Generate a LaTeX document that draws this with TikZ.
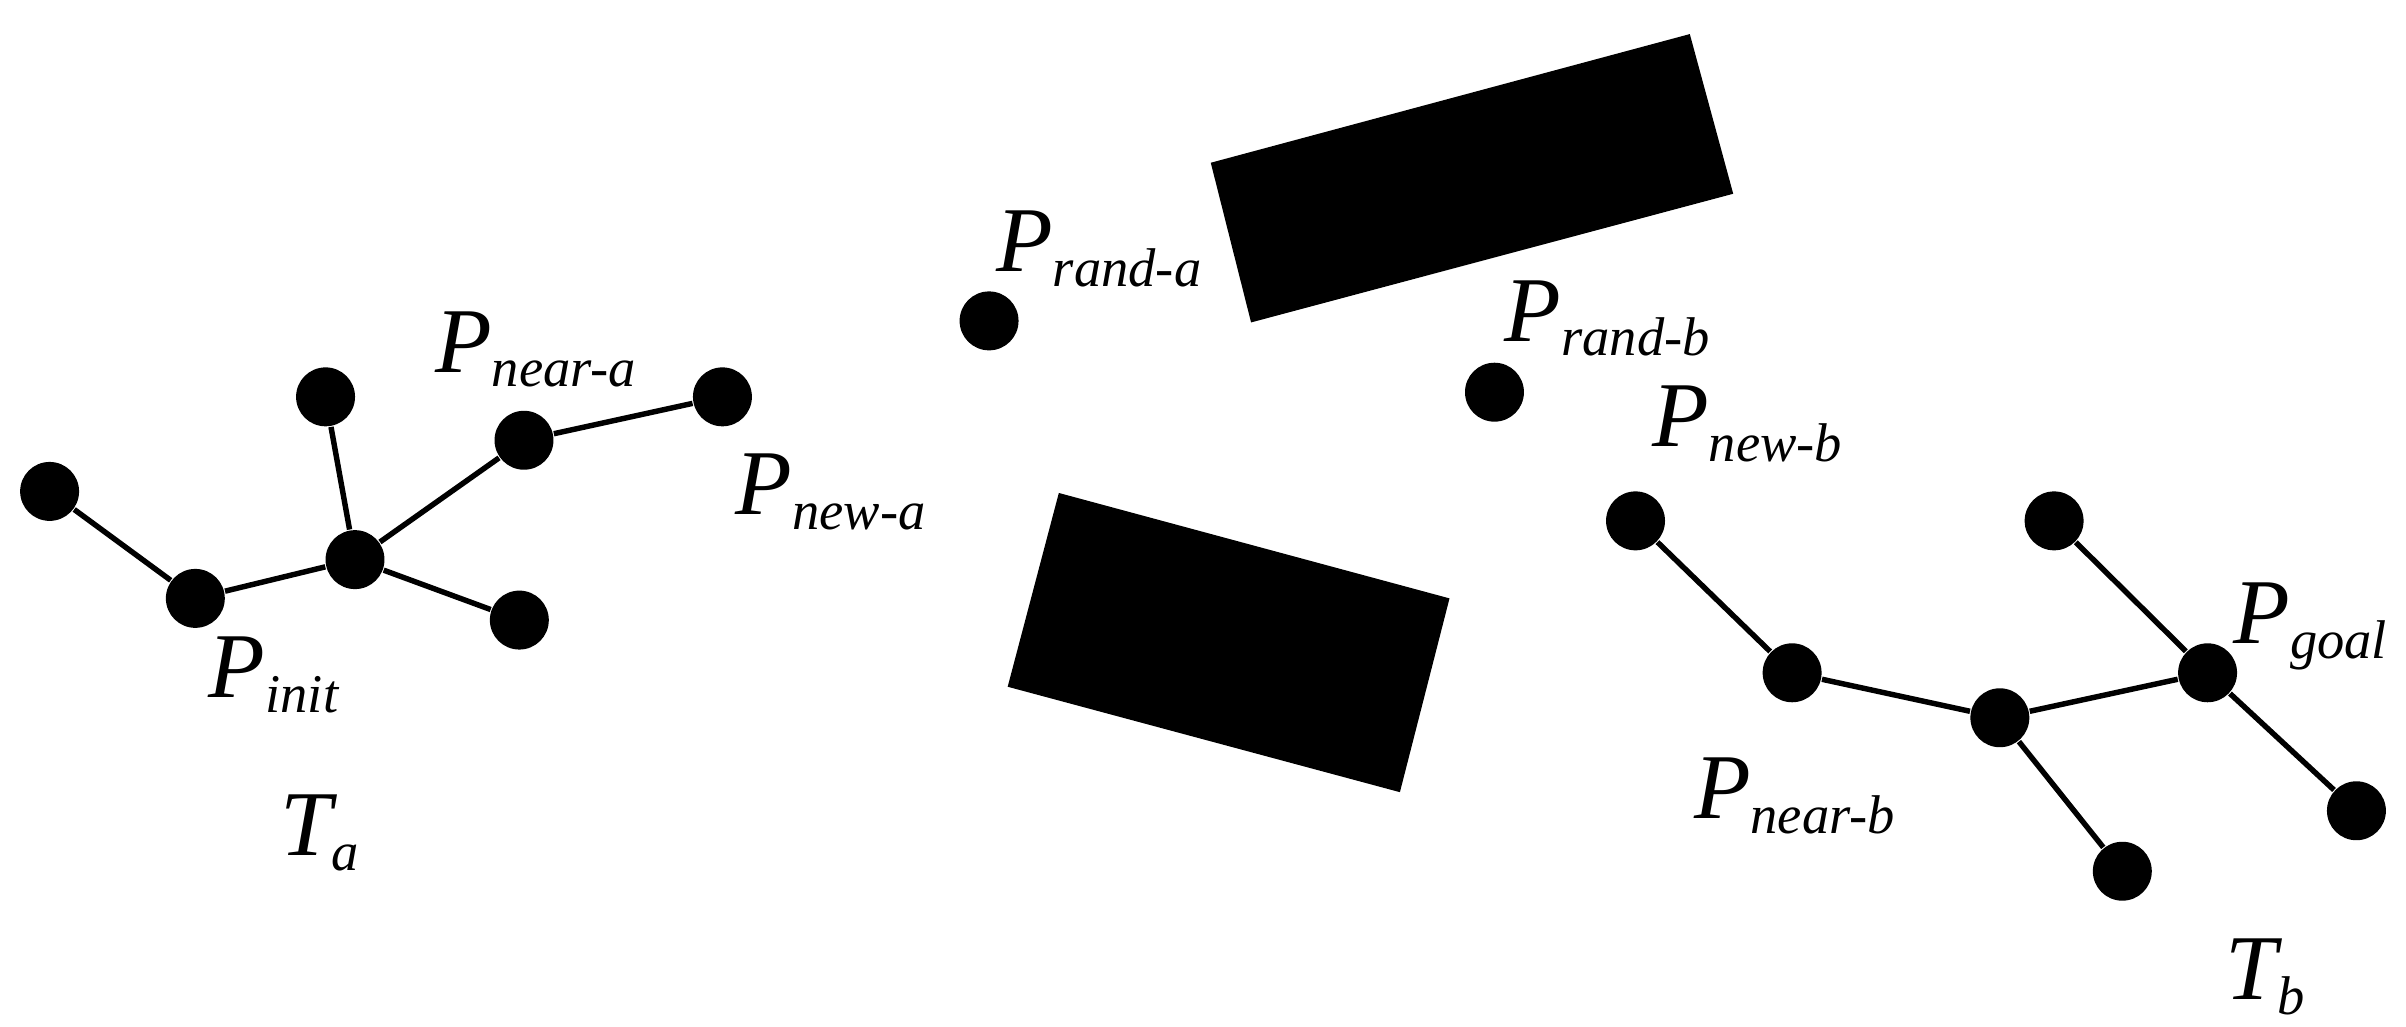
\documentclass[tikz,border=0pt]{standalone}
\usepackage{fontspec}
\setmainfont{Liberation Serif}
\newcommand{\lbl}[2]{\fontsize{17}{20}\selectfont\itshape #1\raisebox{-0.35ex}{\fontsize{10}{12}\selectfont #2}}
\begin{document}
\begin{tikzpicture}[x=0.01cm,y=-0.01cm,
  pt/.style={circle,fill=black,inner sep=0pt,minimum size=0.38cm},
  edge/.style={line width=1pt},
  lab/.style={anchor=base west,inner sep=0pt}]
\useasboundingbox (0,0) rectangle (1552,662);
\fill (781,105) -- (1090,22) -- (1118,125) -- (807,208) -- cycle;
\fill (683,318) -- (935,386) -- (903,511) -- (650,443) -- cycle;
\node[pt] (a1) at (32,317) {};
\node[pt] (a2) at (126,386) {};
\node[pt] (a3) at (229,361) {};
\node[pt] (a4) at (210,256) {};
\node[pt] (a5) at (338,284) {};
\node[pt] (a6) at (466,256) {};
\node[pt] (a7) at (335,400) {};
\node[pt] (ra) at (638,207) {};
\node[pt] (rb) at (964,253) {};
\node[pt] (b1) at (1055,336) {};
\node[pt] (b2) at (1156,434) {};
\node[pt] (b3) at (1290,463) {};
\node[pt] (b4) at (1325,336) {};
\node[pt] (b5) at (1424,434) {};
\node[pt] (b6) at (1520,523) {};
\node[pt] (b7) at (1369,562) {};
\draw[edge] (a1)--(a2) (a2)--(a3) (a3)--(a4) (a3)--(a5) (a5)--(a6) (a3)--(a7);
\draw[edge] (b1)--(b2) (b2)--(b3) (b3)--(b5) (b4)--(b5) (b5)--(b6) (b3)--(b7);
\node[lab] (l1) at (642,175) {\lbl{P}{rand-a}};
\node[lab] (l2) at (280,240) {\lbl{P}{near-a}};
\node[lab] (l3) at (474,332) {\lbl{P}{new-a}};
\node[lab] (l4) at (134,450) {\lbl{P}{init}};
\node[lab] (l5) at (180,552) {\lbl{T}{a}};
\node[lab] (l6) at (970,220) {\lbl{P}{rand-b}};
\node[lab] (l7) at (1065,288) {\lbl{P}{new-b}};
\node[lab] (l8) at (1440,415) {\lbl{P}{goal}};
\node[lab] (l9) at (1092,528) {\lbl{P}{near-b}};
\node[lab] (l10) at (1435,645) {\lbl{T}{b}};
\end{tikzpicture}
\end{document}
